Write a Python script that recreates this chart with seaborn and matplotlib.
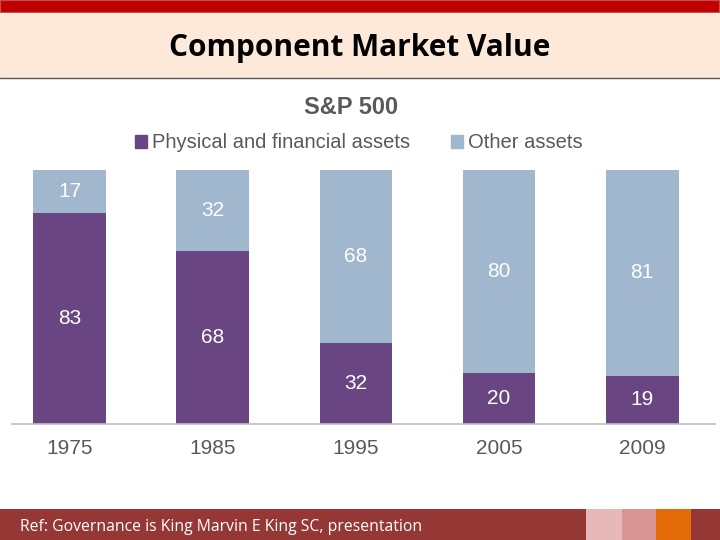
import matplotlib
matplotlib.use("Agg")
import matplotlib.pyplot as plt
from matplotlib.patches import Rectangle
import seaborn as sns
import pandas as pd

# data
years = ["1975", "1985", "1995", "2005", "2009"]
physical = [83, 68, 32, 20, 19]
other = [17, 32, 68, 80, 81]

PURPLE = "#694682"
LIGHT_BLUE = "#A0B7CD"
GRAY_TEXT = "#595959"

sns.set_theme(style="white")
plt.rcParams["font.family"] = ["Liberation Sans", "DejaVu Sans"]

df = pd.DataFrame({"year": years, "physical": physical, "other": other})
df["total"] = df["physical"] + df["other"]

fig = plt.figure(figsize=(7.2, 5.4), dpi=100)
fig.patch.set_facecolor("white")

# slide decorations: top red bar, peach title band, footer
fig.add_artist(Rectangle((0, 1 - 13 / 540), 1, 13 / 540, transform=fig.transFigure,
                         facecolor="#C00000", edgecolor="#C0504D", lw=1.5))
fig.add_artist(Rectangle((0, 1 - 78 / 540), 1, 65 / 540, transform=fig.transFigure,
                         facecolor="#FDE9D9", edgecolor="none"))
fig.add_artist(plt.Line2D([0, 1], [1 - 78 / 540] * 2, transform=fig.transFigure,
                          color="#595959", lw=1))
fig.text(0.5, 1 - 48 / 540, "Component Market Value", ha="center", va="center",
         fontsize=21.5, fontweight="bold", family=["Open Sans", "DejaVu Sans"], color="black")

fig.add_artist(Rectangle((0, 0), 1, 31 / 540, transform=fig.transFigure,
                         facecolor="#953735", edgecolor="none"))
for x0, x1, c in [(586, 622, "#E6B9B8"), (622, 656, "#D99694"), (656, 691, "#E36C09")]:
    fig.add_artist(Rectangle((x0 / 720, 0), (x1 - x0) / 720, 31 / 540,
                             transform=fig.transFigure, facecolor=c, edgecolor="none"))
fig.text(20 / 720, 13 / 540, "Ref: Governance is King Marvin E King SC, presentation",
         ha="left", va="center", fontsize=11.3, color="white",
         family=["Open Sans", "DejaVu Sans"])

# chart
ax = fig.add_axes([12 / 720, 116 / 540, 703 / 720, 254 / 540])
sns.barplot(data=df, x="year", y="total", color=LIGHT_BLUE, width=0.51,
            saturation=1, linewidth=0, ax=ax)
sns.barplot(data=df, x="year", y="physical", color=PURPLE, width=0.51,
            saturation=1, linewidth=0, ax=ax)
ax.set_xlim(-0.405, 4.51)
ax.set_ylim(0, 100)

for i, (p, o) in enumerate(zip(physical, other)):
    ax.text(i, p / 2, str(p), ha="center", va="center", color="white", fontsize=15)
    ax.text(i, p + o / 2, str(o), ha="center", va="center", color="white", fontsize=15)

ax.set_xlabel("")
ax.set_ylabel("")
ax.set_yticks([])
ax.tick_params(axis="x", length=0, pad=11, labelsize=15, labelcolor=GRAY_TEXT)
for s in ["top", "left", "right"]:
    ax.spines[s].set_visible(False)
ax.spines["bottom"].set_color("#BFBFBF")
ax.spines["bottom"].set_linewidth(1.2)

fig.text(351 / 720, 1 - 108 / 540, "S&P 500", ha="center", va="center",
         fontsize=17, fontweight="bold", color=GRAY_TEXT)
handles = [Rectangle((0, 0), 1, 1, color=PURPLE), Rectangle((0, 0), 1, 1, color=LIGHT_BLUE)]
fig.legend(handles, ["Physical and financial assets", "Other assets"],
           loc="center", bbox_to_anchor=(359 / 720, 1 - 143 / 540), ncol=2,
           frameon=False, fontsize=14.5, labelcolor=GRAY_TEXT, handlelength=0.6,
           handleheight=0.6, handletextpad=0.25, columnspacing=2.0)

fig.savefig("out.png", dpi=100)
